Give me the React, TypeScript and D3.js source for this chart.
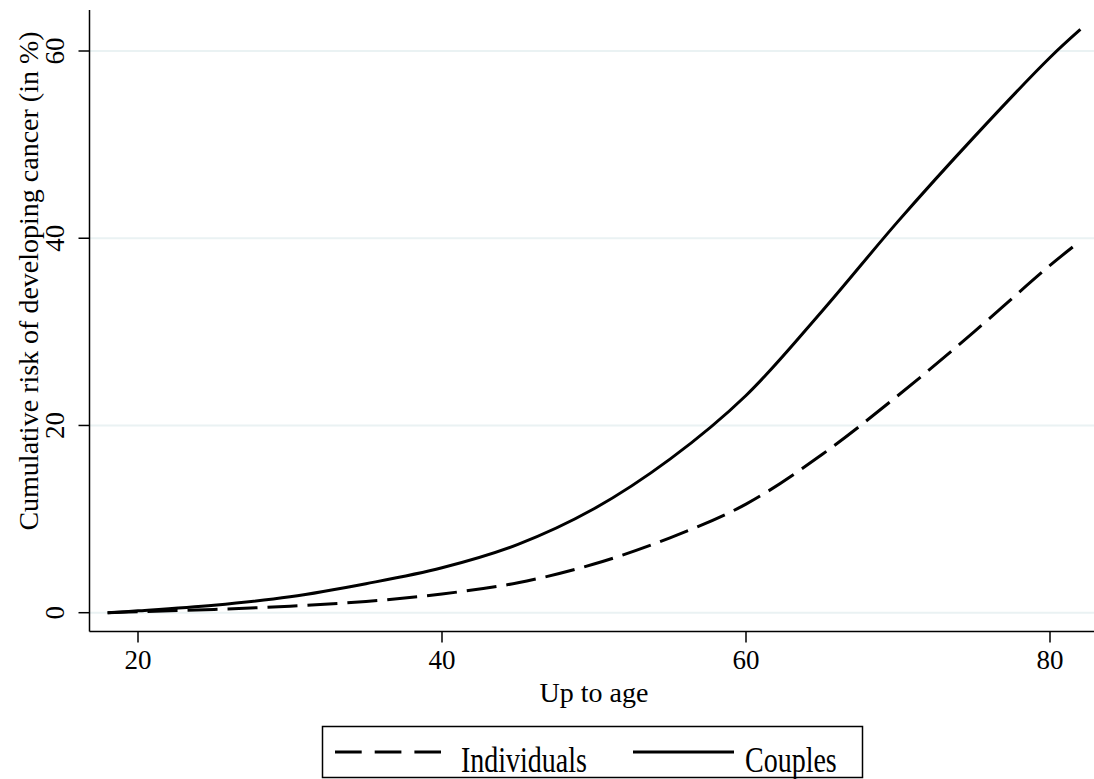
import React from "react";
import * as d3 from "d3";

const ages = [18, 20, 25, 30, 35, 40, 45, 50, 55, 60, 65, 70, 75, 80, 82];
const individuals = [0, 0.1, 0.35, 0.7, 1.2, 2.0, 3.2, 5.2, 8.0, 11.6, 16.9, 23.2, 30.0, 37.1, 39.7];
const couples = [0, 0.2, 0.8, 1.7, 3.1, 4.8, 7.3, 11.1, 16.4, 23.2, 32.2, 41.8, 50.8, 59.3, 62.3];
const xTicks = [20, 40, 60, 80];
const yTicks = [0, 20, 40, 60];
const legendLabels = ["Individuals", "Couples"];

const W = 1094;
const H = 779;
const FONT = "'Liberation Serif', 'DejaVu Serif', serif";

export default function App() {
  const x = d3.scaleLinear().domain([20, 80]).range([138, 1050]);
  const y = d3.scaleLinear().domain([0, 60]).range([612.7, 51]);
  const axisX = 89.5;
  const axisY = 631.5;
  const line = d3
    .line<number>()
    .x((_, i) => x(ages[i]))
    .y((d) => y(d))
    .curve(d3.curveCatmullRom.alpha(0.5));

  return (
    <svg
      width={W}
      height={H}
      style={{ position: "absolute", left: 0, top: 0, background: "#fff" }}
      fontFamily={FONT}
    >
      <rect width={W} height={H} fill="#fff" />
      {yTicks.map((t) => (
        <line key={"g" + t} x1={axisX} x2={W} y1={y(t)} y2={y(t)} stroke="#eaf2f3" strokeWidth={2} />
      ))}
      <path d={line(individuals) || ""} fill="none" stroke="#000" strokeWidth={3} strokeDasharray="30,10" />
      <path d={line(couples) || ""} fill="none" stroke="#000" strokeWidth={3} />
      <line x1={axisX} x2={axisX} y1={10} y2={axisY} stroke="#000" strokeWidth={1.5} />
      <line x1={axisX} x2={W} y1={axisY} y2={axisY} stroke="#000" strokeWidth={1.5} />
      {yTicks.map((t) => (
        <g key={"y" + t}>
          <line x1={axisX - 11} x2={axisX} y1={y(t)} y2={y(t)} stroke="#000" strokeWidth={1.5} />
          <text
            transform={`translate(64,${y(t)}) rotate(-90)`}
            textAnchor="middle"
            fontSize={27}
            fill="#000"
          >
            {t}
          </text>
        </g>
      ))}
      {xTicks.map((t) => (
        <g key={"x" + t}>
          <line x1={x(t)} x2={x(t)} y1={axisY} y2={axisY + 11} stroke="#000" strokeWidth={1.5} />
          <text x={x(t)} y={669} textAnchor="middle" fontSize={27} fill="#000">
            {t}
          </text>
        </g>
      ))}
      <text x={594} y={702} textAnchor="middle" fontSize={28} fill="#000">
        Up to age
      </text>
      <text
        transform={`translate(38,281) rotate(-90)`}
        textAnchor="middle"
        fontSize={28}
        fill="#000"
      >
        Cumulative risk of developing cancer (in %)
      </text>
      <rect x={322.5} y={726.5} width={540} height={51} fill="#fff" stroke="#000" strokeWidth={1.5} />
      <line x1={335} x2={441} y1={752} y2={752} stroke="#000" strokeWidth={3} strokeDasharray="26.7,13" />
      <text transform="translate(461,772) scale(1,1.3)" fontSize={28} fill="#000">
        {legendLabels[0]}
      </text>
      <line x1={633} x2={734} y1={752} y2={752} stroke="#000" strokeWidth={3} />
      <text transform="translate(745,772) scale(1,1.3)" fontSize={28} fill="#000">
        {legendLabels[1]}
      </text>
    </svg>
  );
}
